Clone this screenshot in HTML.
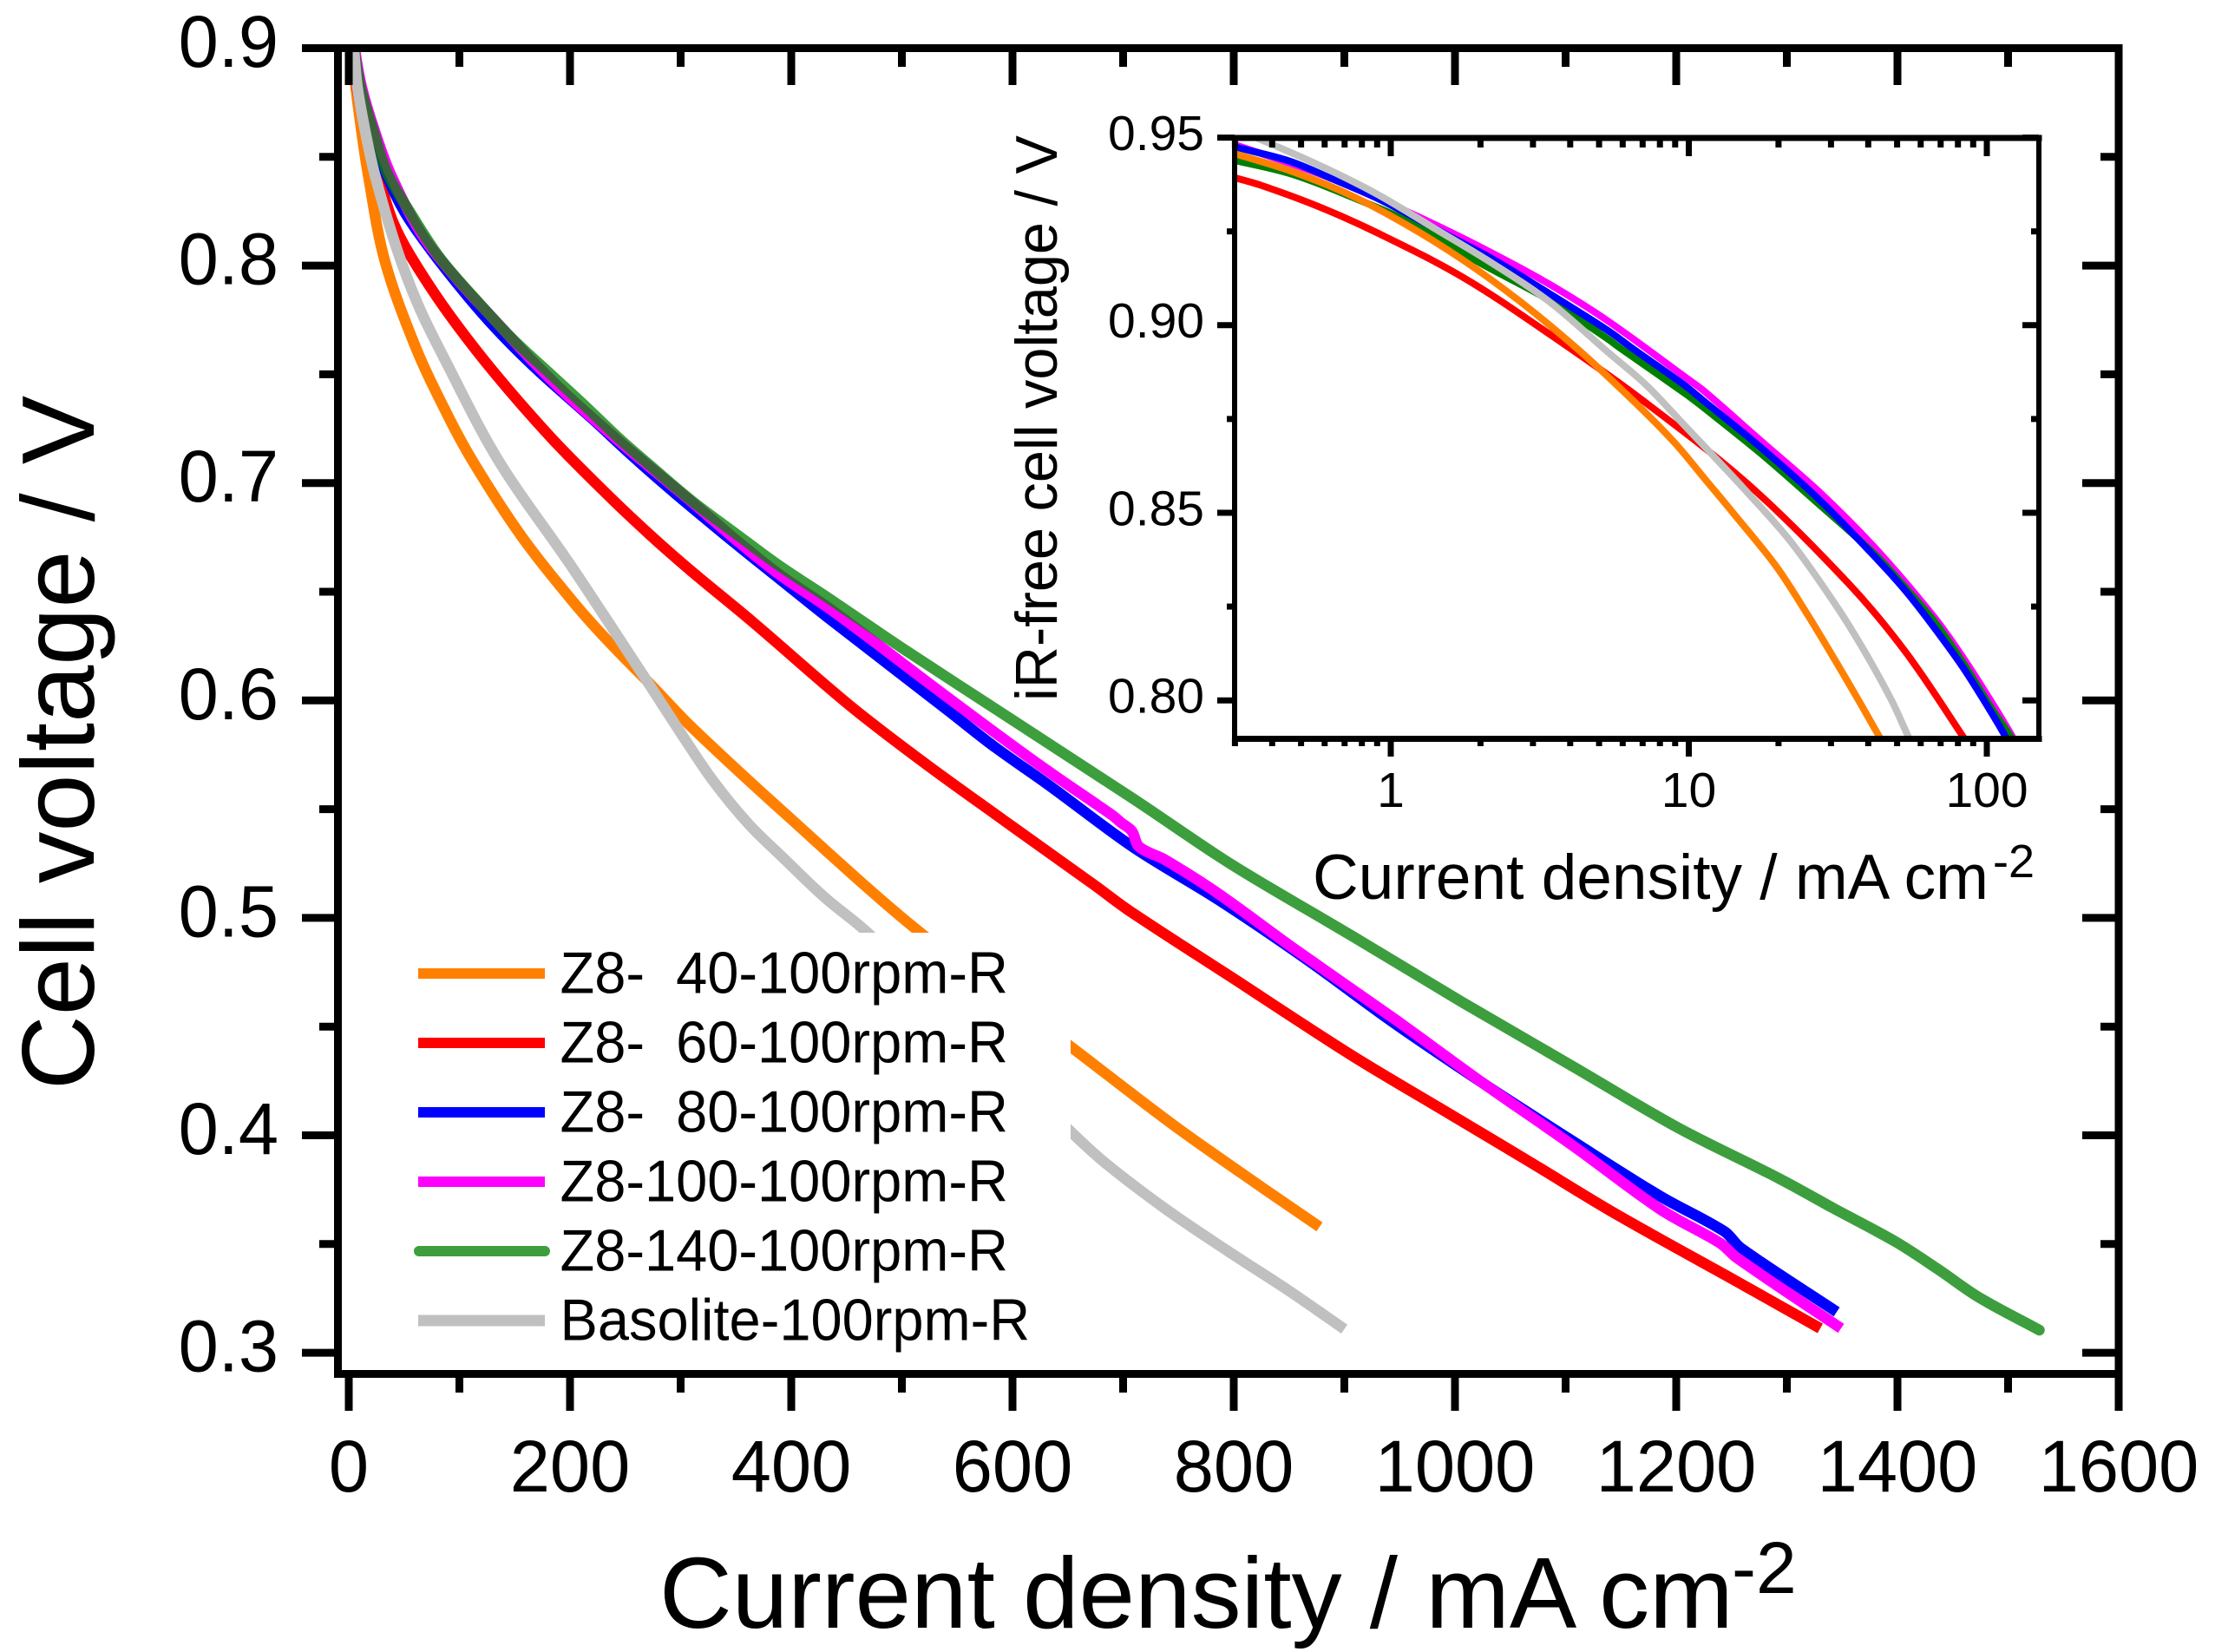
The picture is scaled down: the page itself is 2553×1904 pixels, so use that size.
<!DOCTYPE html>
<html lang="en">
<head>
<meta charset="utf-8">
<title>Cell voltage vs current density</title>
<style>
html,body{margin:0;padding:0;background:#fff;}
svg{display:block;font-family:"Liberation Sans",Arial,sans-serif;fill:#000;}
</style>
</head>
<body>
<svg id="chart" xmlns="http://www.w3.org/2000/svg" width="2553" height="1904" viewBox="0 0 2553 1904">
  <defs>
    <clipPath id="main-clip"><rect x="394" y="58" width="2046" height="1522"/></clipPath>
    <clipPath id="inset-clip"><rect x="1423" y="159" width="927" height="692"/></clipPath>
  </defs>
  <rect x="0" y="0" width="2553" height="1904" fill="#fff"/>
  <g id="main-curves" clip-path="url(#main-clip)"></g>
  <rect x="440" y="1075" width="794" height="490" fill="#fff"/>
  <g id="main-axes"></g>
  <g id="inset-curves" clip-path="url(#inset-clip)"></g>
  <g id="inset-axes"></g>

  <text font-size="116" y="1876" x="760">Current density / mA cm<tspan font-size="84" x="1996" y="1836">-2</tspan></text>
  <text font-size="119" text-anchor="middle" transform="translate(108,856) rotate(-90)">Cell voltage / V</text>
  <text font-size="73" y="1036" x="1513">Current density / mA cm<tspan font-size="54" x="2297" y="1011">-2</tspan></text>
  <text font-size="68" textLength="652" lengthAdjust="spacingAndGlyphs" transform="translate(1218,808) rotate(-90)">iR-free cell voltage / V</text>

  <g>
    <g>
      <line x1="482" x2="628" y1="1122" y2="1122" stroke="#ff8000" stroke-width="12"/>
      <text font-size="65" xml:space="preserve" style="white-space:pre" transform="translate(645.5,1144.7) scale(1,1.04)">Z8-  40-100rpm-R</text>
    </g>
    <g>
      <line x1="482" x2="628" y1="1202" y2="1202" stroke="#ff0000" stroke-width="12"/>
      <text font-size="65" xml:space="preserve" style="white-space:pre" transform="translate(645.5,1224.7) scale(1,1.04)">Z8-  60-100rpm-R</text>
    </g>
    <g>
      <line x1="482" x2="628" y1="1282" y2="1282" stroke="#0000ff" stroke-width="12"/>
      <text font-size="65" xml:space="preserve" style="white-space:pre" transform="translate(645.5,1304.7) scale(1,1.04)">Z8-  80-100rpm-R</text>
    </g>
    <g>
      <line x1="482" x2="628" y1="1362" y2="1362" stroke="#ff00ff" stroke-width="12"/>
      <text font-size="65" transform="translate(645.5,1384.7) scale(1,1.04)">Z8-100-100rpm-R</text>
    </g>
    <g>
      <line x1="483" x2="628" y1="1442" y2="1442" stroke="#3d9e3d" stroke-width="12" stroke-linecap="round"/>
      <text font-size="65" transform="translate(645.5,1464.7) scale(1,1.04)">Z8-140-100rpm-R</text>
    </g>
    <g>
      <line x1="482" x2="628" y1="1522" y2="1522" stroke="#c0c0c0" stroke-width="13"/>
      <text font-size="65" transform="translate(645.5,1544.7) scale(1,1.04)">Basolite-100rpm-R</text>
    </g>
  </g>
</svg>

<script>
// ---- Main plot data: current density (mA cm-2) and cell voltage (V) ----
const mainJ40 = [2.7,6.3,11.4,17.3,32.5,60.4,86.8,112.2,155.3,202.4,233.7,273.7,309.8,393.7,513.7,653.3,745.9,825.9,877.6];
const mainV40 = [.9022,.8822,.8623,.8423,.8024,.7625,.7338,.7099,.6761,.6456,.6277,.6069,.5878,.5483,.4944,.4405,.4046,.3759,.3579];
const mainJ60 = [2,3.1,6.7,11.8,18.8,29.8,40.2,55.9,89.4,131.8,184.5,236.3,272.9,309.6,364.5,453.8,521.6,593.7,673.7,705.9,798,906,986,1065.9,1145.9,1253.3,1330.2];
const mainV60 = [.9042,.9002,.8842,.8703,.8543,.8357,.8197,.8044,.7785,.7506,.72,.6934,.6759,.6595,.6364,.5973,.5708,.5443,.5152,.5032,.4727,.437,.4126,.3883,.3637,.3332,.3112];
const mainJ80 = [3.6,3.9,9.4,20.4,33.7,50.7,74.3,108.2,139.6,173.6,220.6,257.3,296.5,348.8,388,431.9,542.7,582.7,633.7,709.8,785.9,865.9,945.9,1025.9,1105.9,1185.9,1243.5,1258.6,1345.1];
const mainV80 = [.9062,.9002,.8822,.8623,.8423,.8245,.8072,.7854,.7675,.7506,.7293,.712,.6946,.6725,.6565,.6386,.595,.5791,.5607,.5323,.5084,.4809,.4513,.4238,.3975,.3719,.3558,.3481,.3188];
const mainJ100 = [4.9,5.3,11.6,23.1,37.6,65.1,97,131,164.9,196.3,227.7,257.3,309.6,348.8,388,431.9,469,542.7,625.9,689.4,698,707.9,714.5,738,785.9,854.1,945.9,1025.9,1105.9,1185.9,1239.8,1254.9,1349];
const mainV100 = [.9062,.9002,.8822,.8623,.8423,.8151,.7942,.7754,.7568,.7409,.7266,.7136,.6915,.6744,.6584,.6432,.6293,.6009,.5698,.5475,.5439,.5399,.5327,.5267,.5112,.486,.4533,.4238,.3955,.3659,.3504,.3436,.3112];
const mainJ140 = [4.3,4.7,10.6,22,35,54.7,82.1,113.5,147.5,184.1,215.4,244.2,275.5,309.6,348.8,387.9,431.9,502.7,593.7,709.8,797.6,905.9,1006,1105.9,1202,1292.5,1341.6,1398.1,1435.8,1473.6,1528.2];
const mainV140 = [.9062,.9002,.8822,.8623,.8423,.8251,.8037,.7852,.7665,.7493,.7346,.7206,.7067,.692,.6771,.6624,.6476,.6233,.5931,.5546,.5247,.492,.4614,.4319,.4034,.3803,.3666,.3511,.3387,.3255,.3104];
const mainJBas = [3.5,4.5,7.8,14.7,23.3,42.4,62.5,85.5,134.9,199.8,235.1,273.7,301.7,329.4,361.6,393.7,429.8,469.8,653.3,685.5,738,793.7,850.2,900];
const mainVBas = [.9062,.9002,.8822,.8623,.8423,.8092,.7821,.7581,.7107,.6628,.6357,.6057,.5838,.563,.5431,.5271,.5096,.4928,.4014,.3866,.3663,.3471,.3284,.3109];

// ---- Inset data: current density (log axis) and iR-free voltage ----
const insetJ40 = [.3,.4585,.7168,1.121,1.753,2.739,4.283,6.696,8.954,11.19,14,19.58,24.47,30.6,38.27,43.75,45.5];
const insetV40 = [.9457,.9412,.935,.9269,.9173,.9061,.8933,.8789,.8687,.8595,.8502,.8359,.8241,.8114,.7982,.7901,.788];
const insetJ60 = [.3,.3666,.5733,.8965,1.753,3.426,6.696,15.65,34.21,53.5,83.6,86.5];
const insetV60 = [.9393,.9373,.9316,.9247,.9127,.8975,.8811,.8579,.8313,.8128,.7901,.788];
const insetJ80 = [.3,.4585,.641,.8965,1.567,2.191,3.426,5.354,6.374,9.748,11.19,17.5,27.38,42.77,53.5,66.9,83.6,104.6,116.9,119];
const insetV80 = [.9475,.9437,.9389,.9339,.9238,.9177,.9083,.8986,.8942,.8838,.8799,.8673,.8535,.8377,.8291,.8192,.8085,.7962,.7896,.788];
const insetJ100 = [.3,.5733,.8965,1.401,2.191,3.426,5.354,9.748,11.19,17.5,27.38,42.77,66.9,83.6,104.6,122.3,125];
const insetV100 = [.9481,.9404,.9339,.9269,.9192,.9108,.9011,.8861,.8826,.8691,.8556,.8401,.822,.8112,.7991,.7901,.788];
const insetJ140 = [.3,.4585,.7168,1.253,1.96,3.426,5.354,5.815,9.748,11.19,17.5,27.38,42.77,53.5,66.9,83.6,104.6,120.7,123.5];
const insetV140 = [.9439,.9404,.9346,.9262,.9169,.9065,.8963,.8942,.8817,.8781,.8657,.8522,.8384,.8299,.8209,.8098,.7974,.7901,.788];
const insetJBas = [.32,.3586,.5733,.8965,1.401,2.191,3.426,5.354,7.161,9.748,11.19,15.65,21.88,30.6,38.27,47.84,54.7,56.5];
const insetVBas = [.9515,.9498,.9427,.935,.9258,.9165,.9061,.8928,.8842,.873,.868,.8556,.8425,.8263,.814,.8001,.7901,.788];

// ---- Tick labels ----
const mainXTicks = [0,200,400,600,800,1000,1200,1400,1600];
const mainXMinor = [100,300,500,700,900,1100,1300,1500];
const mainYTicks = ["0.3","0.4","0.5","0.6","0.7","0.8","0.9"];
const mainYMinor = [.35,.45,.55,.65,.75,.85];
const insetXTicks = ["1","10","100"];
const insetXMinor = [.3,.4,.5,.6,.7,.8,.9,2,3,4,5,6,7,8,9,20,30,40,50,60,70,80,90];
const insetYTicks = ["0.80","0.85","0.90","0.95"];
const insetYMinor = [.825,.875,.925];

// ---- Axis functions ----
function mainX(j){ return 402 + j * 1.275; }
function mainY(v){ return 55.5 + (0.9 - v) * 2506; }
function insetX(j){ return 1603 + Math.log10(j) * 343.5; }
function insetY(v){ return 158.6 + (0.95 - v) * 4324; }

const SVGNS = 'http://www.w3.org/2000/svg';
const mainCurves = document.getElementById('main-curves');
const mainAxes = document.getElementById('main-axes');
const insetCurves = document.getElementById('inset-curves');
const insetAxes = document.getElementById('inset-axes');

// Smooth path through the data points (unit tangents, handles scaled to segment length)
function smoothPath(pts){
  const n = pts.length;
  const tan = pts.map(function(p, i){
    const a = pts[Math.max(i - 1, 0)];
    const b = pts[Math.min(i + 1, n - 1)];
    const dx = b[0] - a[0];
    const dy = b[1] - a[1];
    const len = Math.hypot(dx, dy) || 1;
    return [dx / len, dy / len];
  });
  let d = 'M' + pts[0][0].toFixed(1) + ' ' + pts[0][1].toFixed(1);
  for (let i = 0; i < n - 1; i++) {
    const p = pts[i];
    const q = pts[i + 1];
    const h = Math.hypot(q[0] - p[0], q[1] - p[1]) / 3;
    d += 'C' + (p[0] + tan[i][0] * h).toFixed(1) + ' ' + (p[1] + tan[i][1] * h).toFixed(1) + ' ' +
         (q[0] - tan[i + 1][0] * h).toFixed(1) + ' ' + (q[1] - tan[i + 1][1] * h).toFixed(1) + ' ' +
         q[0].toFixed(1) + ' ' + q[1].toFixed(1);
  }
  return d;
}

function drawCurve(parent, name, js, vs, fx, fy, color, width, opacity, cap){
  const el = document.createElementNS(SVGNS, 'path');
  
  
  el.setAttribute('d', smoothPath(js.map(function(j, i){ return [fx(j), fy(vs[i])]; })));
  el.setAttribute('fill', 'none');
  el.setAttribute('stroke', color);
  el.setAttribute('stroke-width', width);
  el.setAttribute('stroke-linejoin', 'round');
  el.setAttribute('stroke-linecap', cap);
  el.setAttribute('stroke-opacity', opacity);
  parent.appendChild(el);
}

function drawBar(parent, name, x1, y1, x2, y2, width){
  const el = document.createElementNS(SVGNS, 'line');
  
  
  el.setAttribute('x1', x1);
  el.setAttribute('y1', y1);
  el.setAttribute('x2', x2);
  el.setAttribute('y2', y2);
  el.setAttribute('stroke', '#000');
  el.setAttribute('stroke-width', width);
  parent.appendChild(el);
}

function drawLabel(parent, name, x, y, size, anchor, str, sy){
  const el = document.createElementNS(SVGNS, 'text');
  
  
  el.setAttribute('transform', 'translate(' + x + ',' + y + ') scale(1,' + sy + ')');
  el.setAttribute('font-size', size);
  el.setAttribute('text-anchor', anchor);
  el.textContent = str;
  parent.appendChild(el);
}

// ---- Main curves ----
drawCurve(mainCurves, 'curve-z8-40', mainJ40, mainV40, mainX, mainY, '#ff8000', 12.5, 1, 'butt');
drawCurve(mainCurves, 'curve-z8-60', mainJ60, mainV60, mainX, mainY, '#ff0000', 12.5, 1, 'butt');
drawCurve(mainCurves, 'curve-z8-80', mainJ80, mainV80, mainX, mainY, '#0000ff', 12.5, 1, 'butt');
drawCurve(mainCurves, 'curve-z8-100', mainJ100, mainV100, mainX, mainY, '#ff00ff', 12.5, 1, 'butt');
drawCurve(mainCurves, 'curve-z8-140', mainJ140, mainV140, mainX, mainY, '#008000', 12.5, .76, 'round');
drawCurve(mainCurves, 'curve-basolite', mainJBas, mainVBas, mainX, mainY, '#c0c0c0', 12.5, 1, 'butt');

// ---- Main axes ----
const mL = 389.5, mR = 2442, mT = 55.5, mB = 1583.5;
drawBar(mainAxes, 'main-top-spine', mL - 4.5, mT, mR + 4.5, mT, 9);
drawBar(mainAxes, 'main-bottom-spine', mL - 4.5, mB, mR + 4.5, mB, 9);
drawBar(mainAxes, 'main-left-spine', mL, mT, mL, mB + 4.5, 9);
drawBar(mainAxes, 'main-right-spine', mR, mT, mR, mB + 4.5, 9);

mainXTicks.forEach(function(t){
  const x = mainX(t);
  drawBar(mainAxes, 'x-major-tick-bottom', x, mB, x, 1626, 9);
  drawBar(mainAxes, 'x-major-tick-top', x, mT, x, 98, 9);
  drawLabel(mainAxes, 'x-tick-label', x, 1719, 83, 'middle', String(t), 1.02);
});
mainXMinor.forEach(function(t){
  const x = mainX(t);
  drawBar(mainAxes, 'x-minor-tick-bottom', x, mB, x, 1605, 9);
  drawBar(mainAxes, 'x-minor-tick-top', x, mT, x, 77, 9);
});
mainYTicks.forEach(function(t){
  const y = mainY(parseFloat(t));
  drawBar(mainAxes, 'y-major-tick-left', 348, y, mL, y, 9);
  drawBar(mainAxes, 'y-major-tick-right', 2400, y, mR, y, 9);
  drawLabel(mainAxes, 'y-tick-label', 321, y + 21.5, 83, 'end', t, 1.02);
});
mainYMinor.forEach(function(t){
  const y = mainY(t);
  drawBar(mainAxes, 'y-minor-tick-left', 368, y, mL, y, 9);
  drawBar(mainAxes, 'y-minor-tick-right', 2421, y, mR, y, 9);
});

// ---- Inset curves ----
drawCurve(insetCurves, 'inset-curve-z8-100', insetJ100, insetV100, insetX, insetY, '#ff00ff', 8, 1, 'butt');
drawCurve(insetCurves, 'inset-curve-z8-140', insetJ140, insetV140, insetX, insetY, '#008000', 8, 1, 'butt');
drawCurve(insetCurves, 'inset-curve-z8-80', insetJ80, insetV80, insetX, insetY, '#0000ff', 8, 1, 'butt');
drawCurve(insetCurves, 'inset-curve-z8-60', insetJ60, insetV60, insetX, insetY, '#ff0000', 8, 1, 'butt');
drawCurve(insetCurves, 'inset-curve-z8-40', insetJ40, insetV40, insetX, insetY, '#ff8000', 8, 1, 'butt');
drawCurve(insetCurves, 'inset-curve-basolite', insetJBas, insetVBas, insetX, insetY, '#c0c0c0', 8, 1, 'butt');

// ---- Inset axes ----
const iL = 1423, iR = 2350, iT = 159, iB = 851.5;
drawBar(insetAxes, 'inset-top-spine', iL - 3, iT, iR + 3.5, iT, 7);
drawBar(insetAxes, 'inset-bottom-spine', iL - 3, iB, iR + 3.5, iB, 7);
drawBar(insetAxes, 'inset-left-spine', iL, iT, iL, iB + 3.5, 6);
drawBar(insetAxes, 'inset-right-spine', iR, iT, iR, iB + 3.5, 6);

insetXTicks.forEach(function(t){
  const x = insetX(parseFloat(t));
  drawBar(insetAxes, 'inset-x-major-tick-bottom', x, iB, x, 872, 7);
  drawBar(insetAxes, 'inset-x-major-tick-top', x, iT, x, 180, 7);
  drawLabel(insetAxes, 'inset-x-tick-label', x, 930, 57, 'middle', t, 1);
});
insetXMinor.forEach(function(t){
  const x = insetX(t);
  drawBar(insetAxes, 'inset-x-minor-tick-bottom', x, iB, x, 860, 7);
  drawBar(insetAxes, 'inset-x-minor-tick-top', x, iT, x, 170, 7);
});
insetYTicks.forEach(function(t){
  const y = insetY(parseFloat(t));
  drawBar(insetAxes, 'inset-y-major-tick-left', 1403, y, iL, y, 7);
  drawBar(insetAxes, 'inset-y-major-tick-right', 2331, y, iR, y, 7);
  drawLabel(insetAxes, 'inset-y-tick-label', 1388, y + 14.4, 57, 'end', t, 1);
});
insetYMinor.forEach(function(t){
  const y = insetY(t);
  drawBar(insetAxes, 'inset-y-minor-tick-left', 1414, y, iL, y, 7);
  drawBar(insetAxes, 'inset-y-minor-tick-right', 2341, y, iR, y, 7);
});
</script>
</body>
</html>
